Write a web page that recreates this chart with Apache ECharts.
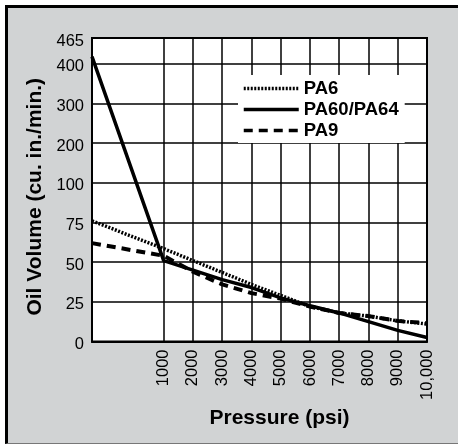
<!DOCTYPE html>
<html>
<head>
<meta charset="utf-8">
<script src="https://cdn.jsdelivr.net/npm/echarts@6/dist/echarts.min.js"></script>
<style>
  html, body { margin: 0; padding: 0; background: #fff; }
  #frame { position: absolute; left: 5px; top: 5px; width: 470px; height: 435px;
           border-left: 3px solid #000; border-top: 3px solid #000; border-bottom: 1px solid #777;
           background: #d1d3d4; }
  #chart { position: absolute; left: 0; top: 0; width: 458px; height: 444px; }
</style>
</head>
<body>
<div id="frame"></div>
<div id="chart"></div>
<script>
// ---- data ----
const pressures = [0, 1000, 2000, 3000, 4000, 5000, 6000, 7000, 8000, 9000, 10000];
const pa6  = [76, 58.5, 51, 43.5, 36, 29, 22, 18, 16, 13, 11];
const pa60 = [418, 51, 45, 39, 34, 27.5, 22.5, 18, 12.5, 7, 2.5];
const pa9  = [62, 54, 44, 36, 30.5, 27, 22, 18, 16, 13, 11.5];
const seriesNames = ['PA6', 'PA60/PA64', 'PA9'];
const xTickValues = [1000, 2000, 3000, 4000, 5000, 6000, 7000, 8000, 9000, 10000];
const xTickLabels = ['1000', '2000', '3000', '4000', '5000', '6000', '7000', '8000', '9000', '10,000'];
const yTickValues = [0, 25, 50, 75, 100, 200, 300, 400, 465];
const yTickLabels = ['0', '25', '50', '75', '100', '200', '300', '400', '465'];

// broken (piecewise) scales used by the original figure
const FIRST_SEG = 2.45; // 0..1000 psi drawn wider than later 1000 psi steps
function xPos(p) { return p <= 1000 ? p / 1000 * FIRST_SEG : FIRST_SEG + (p - 1000) / 1000; }
function yPos(v) { return v <= 100 ? v / 25 : 4 + (v - 100) / 100; }

function lookup(vals, labels, f, v) {
  for (let i = 0; i < vals.length; i++) if (Math.abs(f(vals[i]) - v) < 1e-6) return labels[i];
  return '';
}

const FONT = '"Liberation Sans", Arial, Helvetica, sans-serif';
const chart = echarts.init(document.getElementById('chart'), null, { renderer: 'canvas' });

const xCustom = xTickValues.map(xPos);
const yCustom = yTickValues.map(yPos);

function mk(name, arr, type, width, z) {
  return {
    name: name, type: 'line', symbol: 'none', z: z,
    data: pressures.map((p, i) => [xPos(p), yPos(arr[i])]),
    lineStyle: { color: '#000', width: width, type: type, cap: 'butt' },
    itemStyle: { color: '#000' }
  };
}

chart.setOption({
  animation: false,
  backgroundColor: 'transparent',
  grid: { left: 92, top: 38, right: 31, bottom: 102.5, show: true,
          backgroundColor: '#fff', borderColor: '#000', borderWidth: 2 },
  legend: {
    orient: 'vertical', left: 238, top: 75, padding: [4, 6, 3, 4],
    data: seriesNames, selectedMode: false,
    itemWidth: 55, itemHeight: 14, itemGap: 2,
    backgroundColor: '#fff',
    itemStyle: { opacity: 0 },
    lineStyle: { width: 3.5 },
    textStyle: { fontSize: 18.5, fontWeight: 'bold', color: '#000', fontFamily: FONT }
  },
  xAxis: {
    type: 'value', min: 0, max: xPos(10000),
    name: 'Pressure (psi)', nameLocation: 'middle', nameGap: 58,
    nameTextStyle: { fontSize: 21, fontWeight: 'bold', color: '#000', fontFamily: FONT, padding: [0, 0, 0, 40] },
    axisLine: { show: true, lineStyle: { color: '#000', width: 2 } },
    axisTick: { show: false, customValues: xCustom },
    axisLabel: { customValues: xCustom, rotate: 90, margin: 8, fontSize: 16.5, color: '#000', fontFamily: FONT,
                 formatter: v => lookup(xTickValues, xTickLabels, xPos, v) },
    splitLine: { show: true, lineStyle: { color: '#000', width: 1.5 } }
  },
  yAxis: {
    type: 'value', min: 0, max: yPos(465),
    name: 'Oil Volume (cu. in./min.)', nameLocation: 'middle', nameGap: 46,
    nameTextStyle: { fontSize: 21, fontWeight: 'bold', color: '#000', fontFamily: FONT, padding: [0, 14, 0, 0] },
    axisLine: { show: true, lineStyle: { color: '#000', width: 2 } },
    axisTick: { show: false, customValues: yCustom },
    axisLabel: { customValues: yCustom, margin: 8, color: '#000',
                 formatter: v => '{t|' + lookup(yTickValues, yTickLabels, yPos, v) + '}',
                 rich: { t: { fontSize: 16.5, color: '#000', fontFamily: FONT, padding: [6, 0, 0, 0] } } },
    splitLine: { show: true, lineStyle: { color: '#000', width: 1.5 } }
  },
  series: [
    mk('PA60/PA64', pa60, 'solid', 3.5, 3),
    mk('PA9', pa9, [9, 6], 4, 4),
    mk('PA6', pa6, [2, 1.5], 3.5, 5)
  ]
});
</script>
</body>
</html>
